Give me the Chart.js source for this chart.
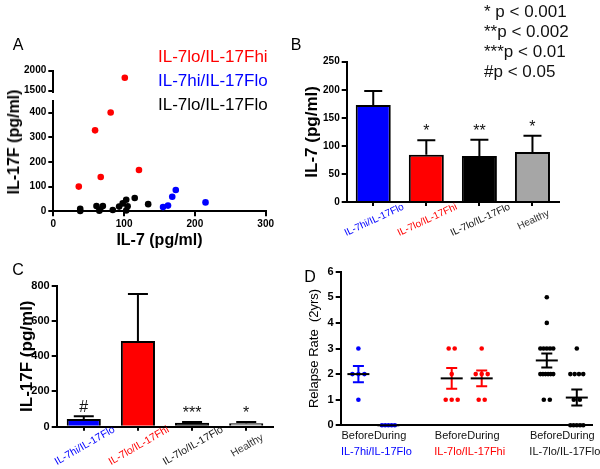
<!DOCTYPE html>
<html>
<head>
<meta charset="utf-8">
<script src="https://cdn.jsdelivr.net/npm/chart.js@4.4.1/dist/chart.umd.min.js"></script>
<style>
body { margin: 0; background: #fff; font-family: "Liberation Sans", Arial, sans-serif; }
#wrap { position: relative; width: 600px; height: 469px; overflow: hidden; }
canvas { position: absolute; left: 0; top: 0; }
.t { position: absolute; white-space: nowrap; line-height: 1; }
.c { transform: translate(-50%, -50%); }
.r { transform: translate(-50%, -50%) rotate(-90deg); font-weight: bold; }
</style>
</head>
<body>
<div id="wrap">
  <canvas id="aTop" width="600" height="469"></canvas>
  <canvas id="aLow" width="600" height="469"></canvas>
  <canvas id="bChart" width="600" height="469"></canvas>
  <canvas id="cChart" width="600" height="469"></canvas>
  <canvas id="dChart" width="600" height="469"></canvas>

  <div class="t c" style="left:18px;top:45px;font-size:16px">A</div>
  <div class="t c" style="left:296px;top:45px;font-size:16px">B</div>
  <div class="t c" style="left:18px;top:270px;font-size:16px">C</div>
  <div class="t c" style="left:310px;top:277px;font-size:16px">D</div>

  <div class="t r" style="left:14px;top:142px;font-size:16px">IL-17F (pg/ml)</div>

  <div class="t" style="left:158px;top:45px;font-size:17px;line-height:24px">
    <div style="color:#ff0000">IL-7lo/IL-17Fhi</div>
    <div style="color:#0000ff">IL-7hi/IL-17Flo</div>
    <div style="color:#000">IL-7lo/IL-17Flo</div>
  </div>

  <div class="t" style="left:484px;top:2px;font-size:17px;line-height:20px;color:#111">
    <div>* p &lt; 0.001</div>
    <div>**p &lt; 0.002</div>
    <div>***p &lt; 0.01</div>
    <div>#p &lt; 0.05</div>
  </div>
</div>

<script>
// A: IL-7 vs IL-17F per patient
const loHiX = [36, 59, 67, 81, 101, 121];
const loHiY = [100, 328, 139, 400, 1825, 167];
const hiLoX = [155, 162, 168, 173, 215];
const hiLoY = [17, 23, 59, 86, 36];
const loLoX = [38, 38, 61, 65, 66, 70, 84, 93, 98, 103, 103, 105, 115, 134];
const loLoY = [10, 1, 21, 2, 7, 21, 5, 19, 32, 47, 3, 20, 54, 29];
const aXTicks = [0, 100, 200, 300];
const aLowTicks = [0, 100, 200, 300, 400];
const aTopTicks = [1500, 2000];

// B and C: group means with SEM
const groups = ['IL-7hi/IL-17Flo', 'IL-7lo/IL-17Fhi', 'IL-7lo/IL-17Flo', 'Healthy'];
const il7Mean = [173, 84, 82, 89];
const il7Sem = [25, 26, 29, 29];
const il7Marks = ['', '*', '**', '*'];
const il7Ticks = [0, 50, 100, 150, 200, 250];
const il17Mean = [44, 486, 23, 19];
const il17Sem = [16, 267, 4, 7];
const il17Marks = ['#', '', '***', '*'];
const il17Ticks = [0, 200, 400, 600, 800];

// D: relapse rate before / during therapy
const hiLoBefore = [3, 2, 2, 2, 1];
const hiLoDuring = [0, 0, 0, 0, 0];
const loHiBefore = [3, 3, 2, 1, 1, 1];
const loHiDuring = [3, 2, 2, 2, 1, 1];
const loLoBefore = [5, 4, 3, 3, 3, 3, 3, 2, 2, 2, 2, 2, 2, 1, 1];
const loLoDuring = [3, 2, 2, 2, 2, 1, 1, 0, 0, 0, 0, 0];
const phases = ['Before', 'During'];
const relTicks = [0, 1, 2, 3, 4, 5, 6];

const FONT = '"Liberation Sans", Arial, sans-serif';
const BLUE = '#0000ff', RED = '#ff0000', GREY = '#a6a6a6';
const groupColors = [BLUE, RED, '#000000', GREY];
const labelColors = [BLUE, RED, '#111111', '#333333'];

Chart.defaults.font.family = FONT;
Chart.defaults.color = '#000';
Chart.defaults.animation = false;
Chart.defaults.responsive = false;
Chart.defaults.plugins.legend.display = false;
Chart.defaults.plugins.tooltip.enabled = false;

// pin each plot area to page coordinates
function frame(l, t, r, b, yW, xH) {
  return { left: l - yW, top: t, right: 600 - r, bottom: 469 - b - xH };
}
function noPad(s) { s.paddingTop = s.paddingBottom = s.paddingLeft = s.paddingRight = 0; }
function fixW(w) { return s => { s.width = w; noPad(s); }; }
function fixH(h) { return s => { s.height = h; noPad(s); }; }
function setTicks(vals) { return s => { s.ticks = vals.map(v => ({ value: v })); }; }
const plain = v => String(v);

const axisGrid = { display: true, drawOnChartArea: false, drawTicks: true, tickLength: 5, color: '#000', lineWidth: 2, offset: false };
const axisBorder = { display: true, color: '#000', width: 2 };

function valAxis(min, max, ticks, w, size, title) {
  return {
    min: min, max: max,
    afterBuildTicks: setTicks(ticks),
    afterFit: fixW(w),
    grid: axisGrid,
    border: axisBorder,
    ticks: { font: { size: size, weight: 'bold' }, color: '#000', padding: 2, callback: plain },
    title: title ? Object.assign({ display: true, padding: 0, color: '#000' }, title) : { display: false }
  };
}

function points(xs, ys, keep) {
  return xs.map((x, i) => ({ x: x, y: ys[i] })).filter(p => keep(p.y));
}

function aChart(id, keep, area, yMin, yMax, yTicks, showX) {
  const xH = showX ? 39.3 : 0;
  return new Chart(document.getElementById(id), {
    type: 'scatter',
    data: {
      datasets: [
        { data: points(loLoX, loLoY, keep), backgroundColor: '#000' },
        { data: points(hiLoX, hiLoY, keep), backgroundColor: BLUE },
        { data: points(loHiX, loHiY, keep), backgroundColor: RED }
      ]
    },
    options: {
      layout: { padding: frame(area[0], area[1], area[2], area[3], 45, xH) },
      elements: { point: { radius: 3.3, borderWidth: 0 } },
      datasets: { scatter: { clip: false } },
      scales: {
        x: {
          type: 'linear', min: 0, max: 300, display: showX,
          afterBuildTicks: setTicks(aXTicks),
          afterFit: fixH(xH),
          grid: axisGrid, border: axisBorder,
          ticks: { font: { size: 10, weight: 'bold' }, color: '#000', padding: 2, callback: plain },
          title: { display: true, text: 'IL-7 (pg/ml)', font: { size: 16, weight: 'bold' }, padding: 0, color: '#000' }
        },
        y: valAxis(yMin, yMax, yTicks, 45, 10)
      }
    }
  });
}

aChart('aTop', v => v > 1000, [53.3, 70.7, 265.7, 92], 1467, 2000, aTopTicks, false);
aChart('aLow', v => v <= 1000, [53.3, 100.7, 265.7, 211.3], 0, 448, aLowTicks, true);

function errorBars(sem, marks, capW) {
  return {
    id: 'errorBars',
    afterDatasetsDraw(chart) {
      const ctx = chart.ctx, y = chart.scales.y;
      const meta = chart.getDatasetMeta(0);
      const vals = chart.data.datasets[0].data;
      ctx.save();
      ctx.strokeStyle = '#000';
      ctx.lineWidth = 2;
      meta.data.forEach((bar, i) => {
        const top = y.getPixelForValue(vals[i] + sem[i]);
        ctx.beginPath();
        ctx.moveTo(bar.x, bar.y);
        ctx.lineTo(bar.x, top);
        ctx.moveTo(bar.x - capW / 2, top);
        ctx.lineTo(bar.x + capW / 2, top);
        ctx.stroke();
        if (marks[i]) {
          ctx.fillStyle = '#111';
          ctx.font = '16px ' + FONT;
          ctx.textAlign = 'center';
          ctx.textBaseline = 'alphabetic';
          ctx.fillText(marks[i], bar.x, top - 4);
        }
      });
      ctx.restore();
    }
  };
}

function slantLabels(angle, size, dy) {
  return {
    id: 'slantLabels',
    afterDraw(chart) {
      const ctx = chart.ctx, x = chart.scales.x;
      ctx.save();
      ctx.font = size + 'px ' + FONT;
      ctx.textAlign = 'center';
      ctx.textBaseline = 'middle';
      x.getLabels().forEach((lab, i) => {
        ctx.save();
        ctx.translate(x.getPixelForValue(i) + 1, x.top + dy);
        ctx.rotate(-angle * Math.PI / 180);
        ctx.fillStyle = labelColors[i];
        ctx.fillText(lab, 0, 0);
        ctx.restore();
      });
      ctx.restore();
    }
  };
}

function barChart(id, means, sem, marks, area, yW, yMax, yTicks, tickSize, title, barPct, capW, angle, lblSize, dy) {
  return new Chart(document.getElementById(id), {
    type: 'bar',
    data: {
      labels: groups,
      datasets: [{ data: means, backgroundColor: groupColors, borderColor: '#000', borderWidth: 2, barPercentage: barPct, categoryPercentage: 1 }]
    },
    options: {
      layout: { padding: frame(area[0], area[1], area[2], area[3], yW, 40) },
      scales: {
        x: {
          afterFit: fixH(40),
          grid: Object.assign({}, axisGrid, { tickLength: 4 }),
          border: axisBorder,
          ticks: { display: false }
        },
        y: valAxis(0, yMax, yTicks, yW, tickSize, { text: title, font: { size: 17, weight: 'bold' } })
      }
    },
    plugins: [errorBars(sem, marks, capW), slantLabels(angle, lblSize, dy)]
  });
}

barChart('bChart', il7Mean, il7Sem, il7Marks, [346.7, 61.7, 559, 202], 44.9, 250, il7Ticks, 10,
  'IL-7 (pg/ml)', 0.66, 18, 25, 10, 18);
barChart('cChart', il17Mean, il17Sem, il17Marks, [56.7, 285.7, 273.3, 426.7], 39.9, 800, il17Ticks, 11,
  'IL-17F (pg/ml)', 0.63, 20, 30, 10.5, 19);

// D
const dCols = [hiLoBefore, hiLoDuring, loHiBefore, loHiDuring, loLoBefore, loLoDuring];
const dColors = [BLUE, BLUE, RED, RED, '#000', '#000'];
const colX = [0.59, 1.59, 3.7, 4.7, 6.87, 7.87];

function swarm(values, cx) {
  const counts = {}, seen = {};
  values.forEach(v => { counts[v] = (counts[v] || 0) + 1; });
  return values.map(v => {
    const k = counts[v];
    const i = seen[v] = (seen[v] === undefined ? 0 : seen[v] + 1);
    const sp = k <= 3 ? 0.2 : 0.43 / (k - 1);
    return { x: cx + (i - (k - 1) / 2) * sp, y: v };
  });
}
function mean(a) { return a.reduce((s, v) => s + v, 0) / a.length; }
function sem(a) {
  const m = mean(a);
  if (a.length < 2) return 0;
  const v = a.reduce((s, x) => s + (x - m) * (x - m), 0) / (a.length - 1);
  return Math.sqrt(v / a.length);
}

const meanSem = {
  id: 'meanSem',
  afterDatasetsDraw(chart) {
    const ctx = chart.ctx, x = chart.scales.x, y = chart.scales.y;
    ctx.save();
    ctx.lineWidth = 2;
    dCols.forEach((vals, c) => {
      const px = x.getPixelForValue(colX[c]);
      const m = mean(vals), e = sem(vals);
      const pm = y.getPixelForValue(m), pt = y.getPixelForValue(m + e), pb = y.getPixelForValue(m - e);
      if (e > 0) {
        ctx.strokeStyle = dColors[c];
        ctx.beginPath();
        ctx.moveTo(px, pt); ctx.lineTo(px, pb);
        ctx.moveTo(px - 5.5, pt); ctx.lineTo(px + 5.5, pt);
        ctx.moveTo(px - 5.5, pb); ctx.lineTo(px + 5.5, pb);
        ctx.stroke();
      }
      ctx.strokeStyle = '#000';
      ctx.beginPath();
      ctx.moveTo(px - 11, pm); ctx.lineTo(px + 11, pm);
      ctx.stroke();
    });
    ctx.restore();
  },
  afterDraw(chart) {
    const ctx = chart.ctx, x = chart.scales.x, base = chart.chartArea.bottom;
    ctx.save();
    ctx.font = '11px ' + FONT;
    ctx.textBaseline = 'middle';
    for (let g = 0; g < 3; g++) {
      const a = x.getPixelForValue(colX[2 * g]), b = x.getPixelForValue(colX[2 * g + 1]);
      const mid = (a + b) / 2;
      ctx.fillStyle = '#111';
      ctx.textAlign = 'right';
      ctx.fillText(phases[0], mid + 0.5, base + 11);
      ctx.textAlign = 'left';
      ctx.fillText(phases[1], mid + 0.5, base + 11);
      ctx.textAlign = 'center';
      ctx.fillStyle = labelColors[g];
      ctx.fillText(groups[g], mid + 3, base + 27);
    }
    ctx.restore();
  }
};

new Chart(document.getElementById('dChart'), {
  type: 'scatter',
  data: {
    datasets: dCols.map((vals, c) => ({ data: swarm(vals, colX[c]), backgroundColor: dColors[c], clip: false }))
  },
  options: {
    layout: { padding: frame(340.7, 271.7, 592.7, 425.3, 34.5, 40) },
    elements: { point: { radius: 2.3, borderWidth: 0 } },
    scales: {
      x: {
        type: 'linear', min: 0, max: 8.4,
        afterFit: fixH(40),
        grid: { display: false },
        border: axisBorder,
        ticks: { display: false }
      },
      y: valAxis(0, 6, relTicks, 34.5, 11, { text: 'Relapse Rate  (2yrs)', font: { size: 13, weight: 'normal' } })
    }
  },
  plugins: [meanSem]
});
</script>
</body>
</html>
